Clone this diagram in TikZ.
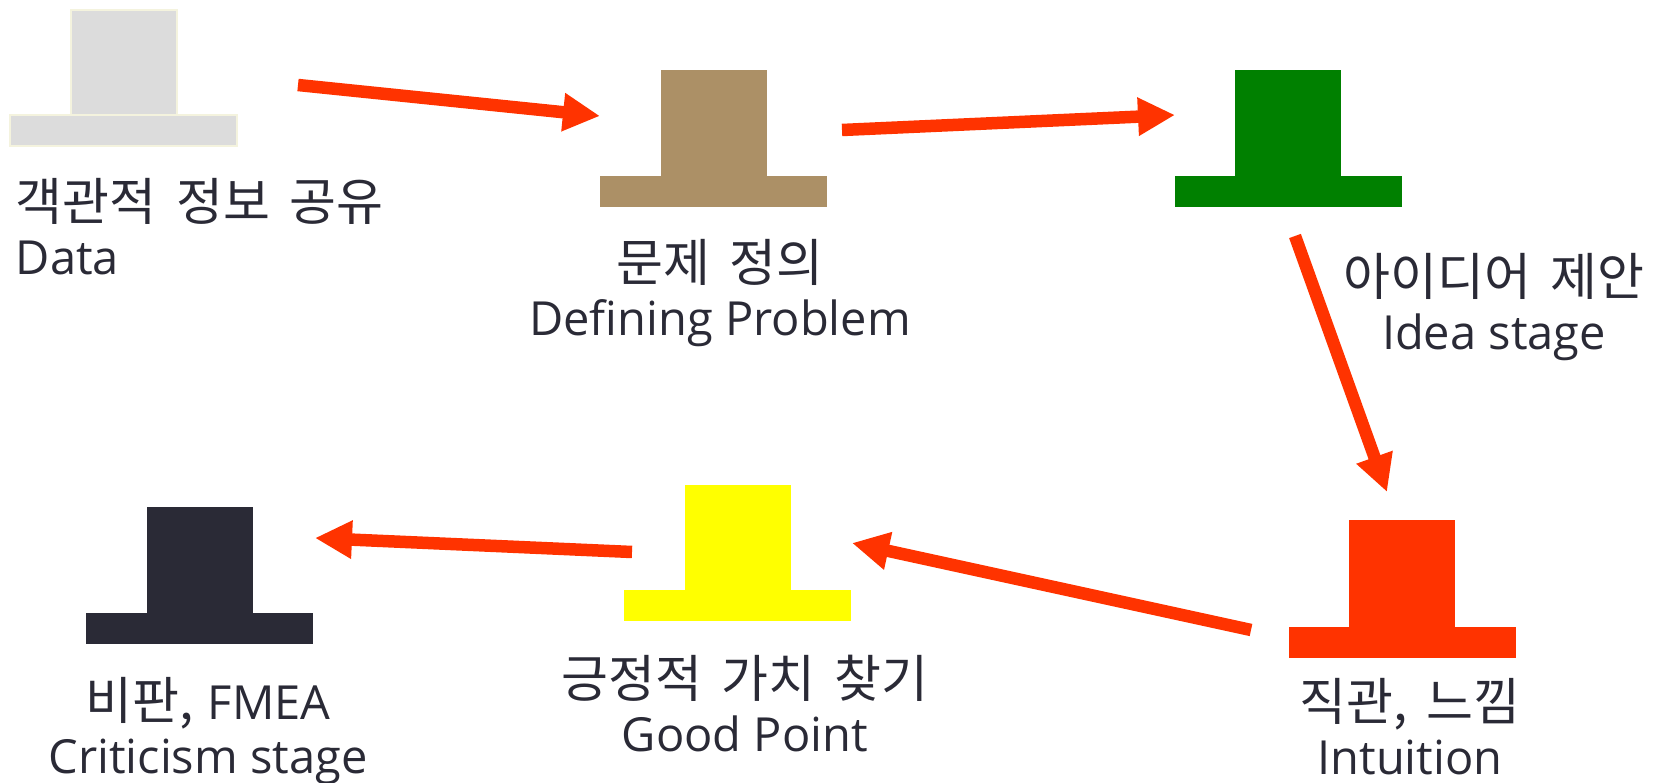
\documentclass[tikz,border=0pt]{standalone}
\usepackage{fontspec}
\usetikzlibrary{arrows.meta}
\newfontfamily\krfont{Noto Sans CJK KR}[WordSpace=1.7]
\newfontfamily\lafont{Open Sans}
\definecolor{ink}{HTML}{2A2A36}
\definecolor{redo}{HTML}{FF3300}
\definecolor{hatyellow}{HTML}{FFFF00}
\definecolor{hatbrown}{HTML}{AC9066}
\definecolor{hatgreen}{HTML}{008000}
\definecolor{palefill}{HTML}{DCDCDC}
\definecolor{paleedge}{HTML}{F4F3DE}
\tikzset{
  x=1pt,y=-1pt,
  hatpart/.style={rectangle,inner sep=0pt,outer sep=0pt,draw=none},
  crown/.style={hatpart,minimum width=106pt,minimum height=107pt},
  brim/.style={hatpart,minimum width=227pt,minimum height=31pt},
  pale/.style={fill=palefill,draw=paleedge,line width=2pt},
  flow/.style={draw=redo,line width=12.5pt,-{Triangle[width=36pt,length=37pt,fill=redo]}},
  lab/.style={text=ink,align=center,inner sep=0pt,outer sep=0pt,font=\fontsize{47}{54}\selectfont},
}
\newcommand{\kor}[1]{{\krfont\fontsize{51}{54}\selectfont #1}}
\newcommand{\lat}[1]{{\lafont\fontsize{47}{54}\selectfont #1}}
\begin{document}
\begin{tikzpicture}
\useasboundingbox (0,0) rectangle (1658,783);
% hats
\node[crown,pale] (c1) at (124,63.5) {};
\node[brim,pale] (b1) at (123.5,131) {};
\node[crown,fill=hatbrown] (c2) at (714,123.5) {};
\node[brim,fill=hatbrown] (b2) at (713,191.5) {};
\node[crown,fill=hatgreen] (c3) at (1288,123.5) {};
\node[brim,fill=hatgreen] (b3) at (1288,191.5) {};
\node[crown,fill=redo] (c4) at (1402,573) {};
\node[brim,fill=redo] (b4) at (1402,642) {};
\node[crown,fill=hatyellow] (c5) at (738,538.5) {};
\node[brim,fill=hatyellow] (b5) at (737,605.5) {};
\node[crown,fill=ink] (c6) at (200,560) {};
\node[brim,fill=ink] (b6) at (199,628.5) {};
% labels
\node[lab,anchor=north west,align=left] (t1) at (16,178) {\kor{객관적 정보 공유}\\\lat{Data}};
\node[lab,anchor=north] (t2) at (720,239) {\kor{문제 정의}\\\lat{Defining Problem}};
\node[lab,anchor=north] (t3) at (1494,253) {\kor{아이디어 제안}\\\lat{Idea stage}};
\node[lab,anchor=north] (t4) at (1410,678) {\kor{직관, 느낌}\\\lat{Intuition}};
\node[lab,anchor=north] (t5) at (745,655) {\kor{긍정적 가치 찾기}\\\lat{Good Point}};
\node[lab,anchor=north] (t6) at (208,677) {\kor{비판,} \lat{FMEA}\\\lat{Criticism stage}};
% arrow ends
\coordinate (a1s) at (298,85);  \coordinate (a1e) at (600,116);
\coordinate (a2s) at (842,130); \coordinate (a2e) at (1175,115);
\coordinate (a3s) at (1295,236);\coordinate (a3e) at (1387,492);
\coordinate (a4s) at (1251,630);\coordinate (a4e) at (852,543);
\coordinate (a5s) at (632,552); \coordinate (a5e) at (315,538);
\draw[flow] (a1s) -- (a1e);
\draw[flow] (a2s) -- (a2e);
\draw[flow] (a3s) -- (a3e);
\draw[flow] (a4s) -- (a4e);
\draw[flow] (a5s) -- (a5e);
\end{tikzpicture}
\end{document}
